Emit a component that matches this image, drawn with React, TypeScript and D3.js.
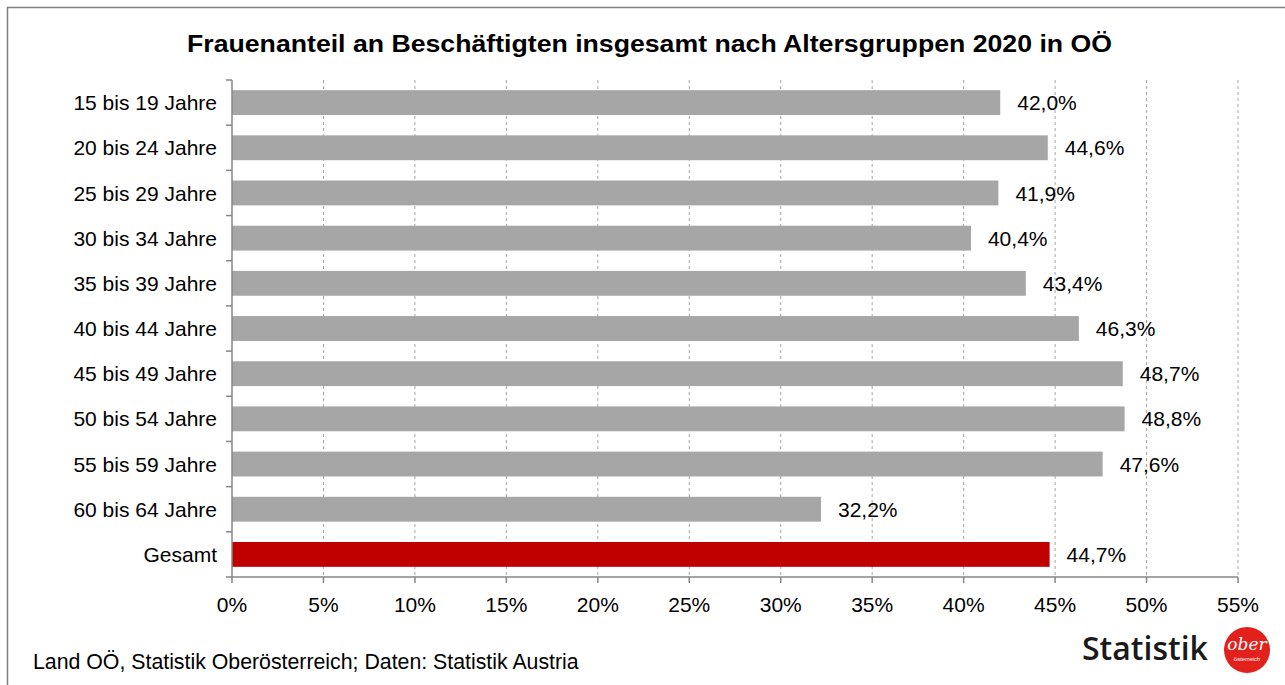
import React from 'react'
import * as d3 from 'd3'

const categories = [
  '15 bis 19 Jahre',
  '20 bis 24 Jahre',
  '25 bis 29 Jahre',
  '30 bis 34 Jahre',
  '35 bis 39 Jahre',
  '40 bis 44 Jahre',
  '45 bis 49 Jahre',
  '50 bis 54 Jahre',
  '55 bis 59 Jahre',
  '60 bis 64 Jahre',
  'Gesamt'
]
const values = [42.0, 44.6, 41.9, 40.4, 43.4, 46.3, 48.7, 48.8, 47.6, 32.2, 44.7]
const xTicks = [0, 5, 10, 15, 20, 25, 30, 35, 40, 45, 50, 55]

const title = 'Frauenanteil an Beschäftigten insgesamt nach Altersgruppen 2020 in OÖ'
const source = 'Land OÖ, Statistik Oberösterreich; Daten: Statistik Austria'

const W = 1285
const H = 685
const font = '"Liberation Sans", Arial, sans-serif'

export default function App() {
  const margin = { left: 232, right: 1238, top: 80, bottom: 577 }

  const x = d3.scaleLinear().domain([0, 55]).range([margin.left, margin.right])
  const y = d3
    .scaleBand<string>()
    .domain(categories)
    .range([margin.top, margin.bottom])
    .paddingInner(0.45)
    .paddingOuter(0.225)

  const step = y.step()
  const fmt = (v: number) => v.toFixed(1).replace('.', ',') + '%'

  return (
    <div style={{ position: 'absolute', left: 0, top: 0 }}>
      <svg width={W} height={H} style={{ display: 'block', background: '#fff' }}>
        {/* outer frame */}
        <rect x={7.5} y={7.5} width={W + 20} height={H + 20} fill="none" stroke="#7f7f7f" strokeWidth={1.5} />

        <text
          x={187}
          y={52}
          textLength={925}
          lengthAdjust="spacingAndGlyphs"
          fontFamily={font}
          fontWeight="bold"
          fontSize={23}
          fill="#000"
        >
          {title}
        </text>

        {/* grid */}
        {xTicks.filter(t => t > 0).map(t => (
          <line
            key={'g' + t}
            x1={x(t)}
            x2={x(t)}
            y1={margin.top}
            y2={margin.bottom}
            stroke="#a6a6a6"
            strokeWidth={1}
            strokeDasharray="3,3"
          />
        ))}

        {/* bars */}
        {categories.map((c, i) => (
          <rect
            key={c}
            x={x(0)}
            y={y(c)!}
            width={x(values[i]) - x(0)}
            height={y.bandwidth()}
            fill={c === 'Gesamt' ? '#c00000' : '#a6a6a6'}
          />
        ))}

        {/* value labels */}
        {categories.map((c, i) => (
          <text
            key={'v' + c}
            x={x(values[i]) + 17}
            y={y(c)! + y.bandwidth() / 2}
            dy="0.36em"
            fontFamily={font}
            fontSize={21}
            fill="#000"
          >
            {fmt(values[i])}
          </text>
        ))}

        {/* y axis */}
        <line x1={margin.left} x2={margin.left} y1={margin.top} y2={margin.bottom} stroke="#868686" strokeWidth={1.5} />
        {d3.range(categories.length + 1).map(i => (
          <line
            key={'yt' + i}
            x1={margin.left - 6}
            x2={margin.left}
            y1={margin.top + i * step}
            y2={margin.top + i * step}
            stroke="#868686"
            strokeWidth={1.5}
          />
        ))}
        {categories.map(c => (
          <text
            key={'l' + c}
            x={217}
            y={y(c)! + y.bandwidth() / 2}
            dy="0.36em"
            textAnchor="end"
            fontFamily={font}
            fontSize={21}
            fill="#000"
          >
            {c}
          </text>
        ))}

        {/* x axis */}
        <line x1={margin.left} x2={margin.right} y1={margin.bottom} y2={margin.bottom} stroke="#868686" strokeWidth={1.5} />
        {xTicks.map(t => (
          <g key={'xt' + t}>
            <line x1={x(t)} x2={x(t)} y1={margin.bottom} y2={margin.bottom + 6} stroke="#868686" strokeWidth={1.5} />
            <text x={x(t)} y={612} textAnchor="middle" fontFamily={font} fontSize={21} fill="#000">
              {t + '%'}
            </text>
          </g>
        ))}

        {/* source */}
        <text x={33} y={669} fontFamily={font} fontSize={21.3} fill="#000">
          {source}
        </text>

        {/* logo */}
        <text x={1082} y={660} fontFamily='"Open Sans", sans-serif' fontWeight={600} fontSize={32} fill="#1a1a1a">
          Statistik
        </text>
        <circle cx={1247} cy={650} r={23} fill="#e2211c" />
        <text x={1247} y={650} textAnchor="middle" fontFamily="DejaVu Serif, serif" fontStyle="italic" fontSize={17} fill="#fff">
          ober
        </text>
        <text x={1247} y={661} textAnchor="middle" fontFamily={font} fontSize={6} fill="#fff">
          österreich
        </text>
      </svg>
    </div>
  )
}
